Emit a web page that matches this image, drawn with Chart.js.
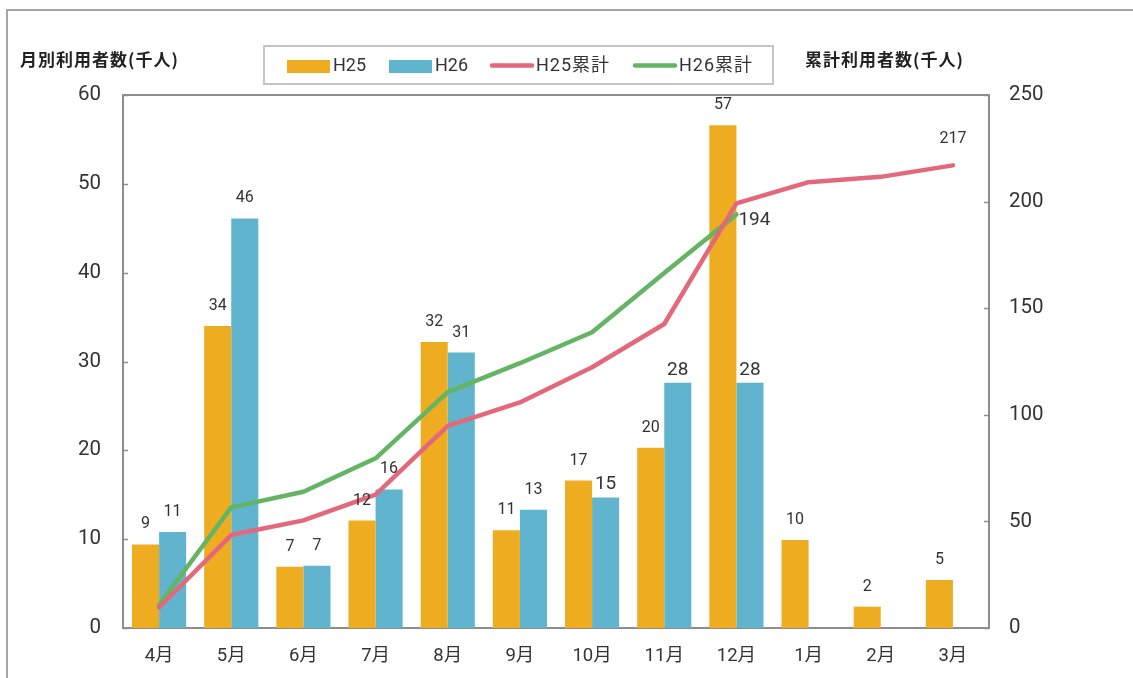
<!DOCTYPE html>
<html lang="ja">
<head>
<meta charset="utf-8">
<title>月別利用者数</title>
<script src="https://cdn.jsdelivr.net/npm/chart.js@4.4.1/dist/chart.umd.min.js"></script>
<style>
  html, body { margin: 0; padding: 0; background: #fff; }
  #wrap { width: 1133px; height: 678px; position: relative; }
</style>
</head>
<body>
<div id="wrap"><canvas id="chart" width="1133" height="678"></canvas></div>
<script>
// --- datos ---
const months = ['4月', '5月', '6月', '7月', '8月', '9月', '10月', '11月', '12月', '1月', '2月', '3月'];
const h25Monthly = [9.4, 34.0, 6.9, 12.1, 32.2, 11.0, 16.6, 20.3, 56.6, 9.9, 2.4, 5.4];
const h26Monthly = [10.8, 46.1, 7.0, 15.6, 31.0, 13.3, 14.7, 27.6, 27.6, null, null, null];
const h25Total = [9.6, 43.6, 50.5, 62.6, 94.8, 105.8, 122.3, 142.6, 199.2, 209.1, 211.6, 217.0];
const h26Total = [10.8, 56.6, 63.9, 79.6, 110.6, 124.2, 138.7, 166.5, 194.0, null, null, null];
const seriesNames = ['H25', 'H26', 'H25累計', 'H26累計'];
const leftTitle = '月別利用者数(千人)';
const rightTitle = '累計利用者数(千人)';

const FONT = 'Roboto, "Noto Sans CJK JP", sans-serif';
const CJK = '"Noto Sans CJK JP", sans-serif';
const AXIS = '#8e8e8e';
const TEXT = '#333333';

// --- decoración: marco, ticks hacia dentro, leyenda, títulos, etiquetas ---
const decorPlugin = {
    id: 'decor',
    beforeDraw(chart) {
        const ctx = chart.ctx;
        ctx.save();
        ctx.strokeStyle = '#a6a6a6';
        ctx.lineWidth = 2;
        ctx.beginPath();
        ctx.moveTo(chart.width, 10);
        ctx.lineTo(7, 10);
        ctx.lineTo(7, chart.height);
        ctx.stroke();
        ctx.restore();
    },
    afterDatasetsDraw(chart) {
        const ctx = chart.ctx;
        ctx.save();
        ctx.fillStyle = TEXT;
        ctx.textAlign = 'center';
        ctx.textBaseline = 'middle';

        // etiquetas de barras
        [0, 1].forEach(di => {
            const meta = chart.getDatasetMeta(di);
            const values = chart.data.datasets[di].data;
            meta.data.forEach((bar, i) => {
                if (values[i] == null) return;
                const big = di === 1 && i >= 6;
                ctx.font = (big ? '19px ' : '16px ') + FONT;
                ctx.fillText(String(Math.round(values[i])), bar.x, bar.y - (big ? 13 : 20));
            });
        });

        // etiquetas de las líneas (solo último punto)
        const m25 = chart.getDatasetMeta(2);
        const last25 = m25.data[h25Total.length - 1];
        ctx.font = '16px ' + FONT;
        ctx.fillText(String(Math.round(h25Total[h25Total.length - 1])), last25.x, last25.y - 26);

        const m26 = chart.getDatasetMeta(3);
        const idx26 = h26Total.filter(v => v != null).length - 1;
        const last26 = m26.data[idx26];
        ctx.font = '19px ' + FONT;
        ctx.textAlign = 'left';
        ctx.fillText(String(Math.round(h26Total[idx26])), last26.x + 2, last26.y + 6);
        ctx.restore();
    },
    afterDraw(chart) {
        const ctx = chart.ctx;
        const area = chart.chartArea;
        ctx.save();

        // borde superior del área
        ctx.strokeStyle = AXIS;
        ctx.lineWidth = 2;
        ctx.beginPath();
        ctx.moveTo(area.left, area.top);
        ctx.lineTo(area.right, area.top);
        ctx.stroke();

        // ticks hacia dentro
        ctx.lineWidth = 1.5;
        const yL = chart.scales.y;
        yL.ticks.forEach(t => {
            const py = Math.round(yL.getPixelForValue(t.value)) + 0.5;
            ctx.beginPath();
            ctx.moveTo(area.left, py);
            ctx.lineTo(area.left + 5, py);
            ctx.stroke();
        });
        const yR = chart.scales.y1;
        yR.ticks.forEach(t => {
            const py = Math.round(yR.getPixelForValue(t.value)) + 0.5;
            ctx.beginPath();
            ctx.moveTo(area.right, py);
            ctx.lineTo(area.right - 5, py);
            ctx.stroke();
        });

        // títulos de ejes
        ctx.fillStyle = '#222';
        ctx.font = 'bold 17px ' + CJK;
        ctx.textAlign = 'left';
        ctx.textBaseline = 'middle';
        ctx.letterSpacing = '1px';
        ctx.fillText(leftTitle, 20, 60);
        ctx.fillText(rightTitle, 805, 60);
        ctx.letterSpacing = '0px';

        // leyenda
        ctx.strokeStyle = '#c4c4c4';
        ctx.lineWidth = 2;
        ctx.strokeRect(264, 46, 509, 38);
        const ds = chart.data.datasets;
        const slots = [287, 389, 490, 633];
        ctx.font = '18px ' + FONT;
        ctx.fillStyle = TEXT;
        slots.forEach((x, i) => {
            if (i < 2) {
                ctx.fillStyle = ds[i].backgroundColor;
                ctx.fillRect(x, 60, 43, 13);
            } else {
                ctx.strokeStyle = ds[i].borderColor;
                ctx.lineWidth = 4.5;
                ctx.lineCap = 'round';
                ctx.beginPath();
                ctx.moveTo(x + 2, 65.5);
                ctx.lineTo(x + 42, 65.5);
                ctx.stroke();
            }
            ctx.fillStyle = TEXT;
            ctx.letterSpacing = i < 2 ? '0px' : '1px';
            ctx.fillText(seriesNames[i], x + 46, 66);
        });
        ctx.restore();
    }
};

const ctx = document.getElementById('chart').getContext('2d');
new Chart(ctx, {
    type: 'bar',
    data: {
        labels: months,
        datasets: [
            {
                label: seriesNames[0],
                data: h25Monthly,
                backgroundColor: '#EEAC20',
                yAxisID: 'y',
                order: 2,
                categoryPercentage: 0.75,
                barPercentage: 1.0
            },
            {
                label: seriesNames[1],
                data: h26Monthly,
                backgroundColor: '#61B4CD',
                yAxisID: 'y',
                order: 2,
                categoryPercentage: 0.75,
                barPercentage: 1.0
            },
            {
                type: 'line',
                label: seriesNames[2],
                data: h25Total,
                borderColor: '#E3687B',
                backgroundColor: '#E3687B',
                borderWidth: 4.5,
                pointRadius: 0,
                tension: 0,
                borderCapStyle: 'round',
                borderJoinStyle: 'round',
                yAxisID: 'y1',
                order: 0
            },
            {
                type: 'line',
                label: seriesNames[3],
                data: h26Total,
                borderColor: '#63B463',
                backgroundColor: '#63B463',
                borderWidth: 4.5,
                pointRadius: 0,
                tension: 0,
                borderCapStyle: 'round',
                borderJoinStyle: 'round',
                yAxisID: 'y1',
                order: 1
            }
        ]
    },
    options: {
        responsive: false,
        animation: false,
        layout: { padding: { top: 95, left: 0, right: 0, bottom: 0 } },
        plugins: {
            legend: { display: false },
            tooltip: { enabled: false }
        },
        scales: {
            x: {
                grid: { display: false, drawTicks: false },
                border: { display: true, color: AXIS, width: 2 },
                ticks: { color: TEXT, font: { size: 18.5, family: FONT }, padding: 17 },
                afterFit: s => { s.height = 50; }
            },
            y: {
                position: 'left',
                min: 0,
                max: 60,
                grid: { display: false, drawTicks: false },
                border: { display: true, color: AXIS, width: 2 },
                ticks: { stepSize: 10, color: TEXT, font: { size: 20.5, family: FONT }, padding: 22 },
                afterFit: s => { s.width = 123; }
            },
            y1: {
                position: 'right',
                min: 0,
                max: 250,
                grid: { display: false, drawTicks: false },
                border: { display: true, color: AXIS, width: 2 },
                ticks: { stepSize: 50, color: TEXT, font: { size: 20.5, family: FONT }, padding: 20 },
                afterFit: s => { s.width = 144; }
            }
        }
    },
    plugins: [decorPlugin]
});
</script>
</body>
</html>
